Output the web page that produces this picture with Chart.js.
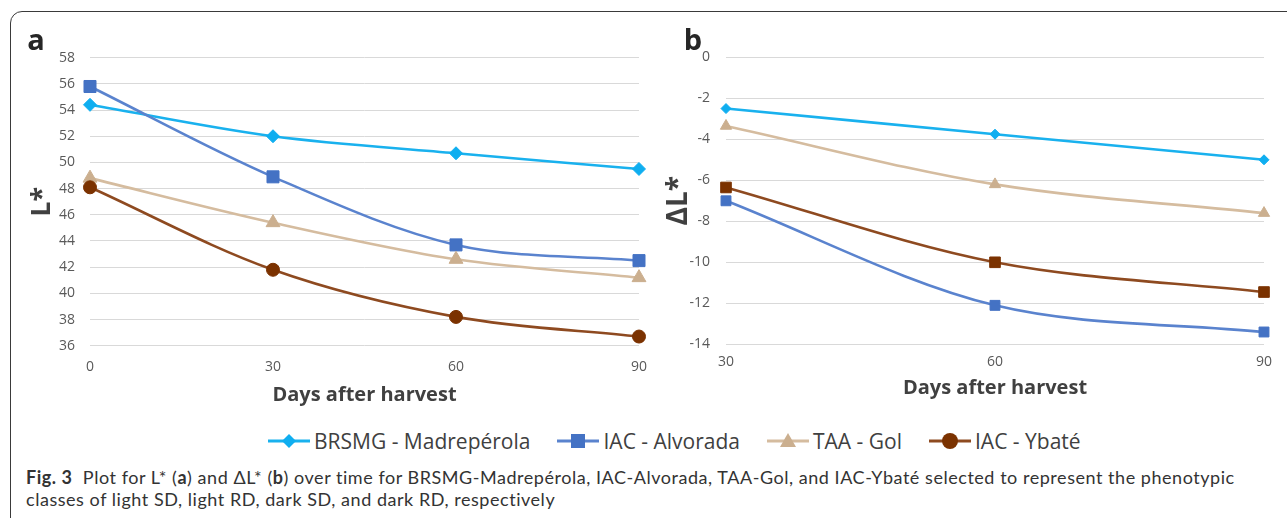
<!DOCTYPE html>
<html><head><meta charset="utf-8">
<script src="https://cdn.jsdelivr.net/npm/chart.js@4"></script>
<style>
html,body{margin:0;padding:0;background:#fff;}
body{width:1287px;height:518px;overflow:hidden;position:relative;font-family:"Open Sans",sans-serif;}
#frame{position:absolute;left:10px;top:11px;width:1320px;height:540px;border:1.5px solid #3a3a3a;border-radius:12px;box-sizing:border-box;}
.wrap{position:absolute;top:0;height:420px;}
#wa{left:0;width:660px;}
#wb{left:660px;width:627px;}
.plabel{position:absolute;font-weight:700;font-size:29px;color:#262626;line-height:30px;transform:translate(-50%,-50%);}
#legend{position:absolute;left:268px;top:428px;height:26px;display:flex;align-items:center;gap:27px;white-space:nowrap;}
.li{display:flex;align-items:center;}
.li span{font-size:21px;color:#404040;margin-left:4px;line-height:26px;}
#caption{position:absolute;left:26px;top:466px;font-family:Lato,sans-serif;font-size:18px;line-height:22px;color:#333;white-space:nowrap;}
#caption span{display:inline-block;}
#caption b{font-weight:700;}
</style></head>
<body>
<div id="frame"></div>
<div class="wrap" id="wa"><canvas id="ca"></canvas></div>
<div class="wrap" id="wb"><canvas id="cb"></canvas></div>
<div class="plabel" style="left:36px;top:39px;">a</div>
<div class="plabel" style="left:693px;top:39px;">b</div>
<div id="legend"></div>
<div id="caption"><span id="cap1"><b>Fig. 3</b>&nbsp; Plot for L* (<b>a</b>) and ΔL* (<b>b</b>) over time for BRSMG-Madrepérola, IAC-Alvorada, TAA-Gol, and IAC-Ybaté selected to represent the phenotypic</span><br><span id="cap2">classes of light SD, light RD, dark SD, and dark RD, respectively</span></div>
<script>
// ---- data ----
const seriesNames = ["BRSMG - Madrepérola", "IAC - Alvorada", "TAA - Gol", "IAC - Ybaté"];
const daysA = [0, 30, 60, 90];
const lBRSMG = [54.4, 52.0, 50.7, 49.5];
const lAlvorada = [55.8, 48.9, 43.7, 42.5];
const lTAA = [48.8, 45.4, 42.6, 41.2];
const lYbate = [48.1, 41.8, 38.2, 36.7];
const daysB = [30, 60, 90];
const dBRSMG = [-2.5, -3.75, -5.0];
const dAlvorada = [-7.0, -12.1, -13.4];
const dTAA = [-3.35, -6.2, -7.6];
const dYbate = [-6.35, -10.0, -11.45];
const ticksA = {min: 36, max: 58, step: 2};
const ticksB = {min: -14, max: 0, step: 2};

const lineColors = ["#19B1EE", "#5A83CE", "#D5BC9F", "#8E4A20"];
const markColors = ["#0FAEF0", "#4472C4", "#CBAF8F", "#7B3200"];

Chart.defaults.font.family = "'Open Sans', sans-serif";

function pts(xs, ys){ return xs.map((x,i)=>({x:x, y:ys[i]})); }

function ds(i, xs, ys, style, r){
  return {
    label: seriesNames[i], data: pts(xs, ys),
    borderColor: lineColors[i], backgroundColor: markColors[i],
    pointBackgroundColor: markColors[i], pointBorderColor: markColors[i],
    pointBorderWidth: 1, pointStyle: style, pointRadius: r, pointHoverRadius: r,
    borderWidth: 2.6, tension: 0.33, clip: false, order: 4 - i
  };
}

function makeChart(id, datasets, xr, yr, cfg){
  return new Chart(document.getElementById(id), {
    type: 'line',
    data: {datasets: datasets},
    options: {
      responsive: true, maintainAspectRatio: false, animation: false,
      layout: {padding: {left: 0, right: cfg.padRight, top: cfg.top, bottom: 0}},
      plugins: {legend: {display: false}, tooltip: {enabled: false}},
      scales: {
        x: {
          type: 'linear', min: xr.min, max: xr.max,
          ticks: {stepSize: 30, color: '#595959', font: {size: 14}, padding: cfg.xTickPad},
          grid: {display: false, drawTicks: false}, border: {display: false},
          title: {display: true, text: 'Days after harvest', color: '#404040',
                  font: {size: 20, weight: 'bold'}, padding: {top: 0, bottom: cfg.xTitlePad}},
          afterFit: s => { s.height = cfg.xHeight; }
        },
        y: {
          min: yr.min, max: yr.max,
          ticks: {stepSize: yr.step, color: '#595959', font: {size: 14}, padding: cfg.yTickPad},
          grid: {color: '#d9d9d9', lineWidth: 1, drawTicks: false}, border: {display: false},
          title: {display: true, text: cfg.yTitle, color: '#404040',
                  font: {size: cfg.yTitleSize, weight: 'bold'}, padding: {top: cfg.yTitlePad, bottom: 0}},
          afterFit: s => { s.width = cfg.yWidth; }
        }
      }
    }
  });
}

makeChart('ca', [
  ds(0, daysA, lBRSMG, 'rectRot', 6.5),
  ds(1, daysA, lAlvorada, 'rect', 8.5),
  ds(2, daysA, lTAA, 'triangle', 8),
  ds(3, daysA, lYbate, 'circle', 6.5)
], {min: 0, max: 90}, ticksA, {
  padRight: 19, top: 57.7, xTickPad: 13, xTitlePad: 13, xHeight: 74.3,
  yTickPad: 15, yTitle: 'L*', yTitleSize: 27, yTitlePad: 26, yWidth: 90
});

makeChart('cb', [
  ds(0, daysB, dBRSMG, 'rectRot', 5),
  ds(1, daysB, dAlvorada, 'rect', 7),
  ds(2, daysB, dTAA, 'triangle', 6.5),
  ds(3, daysB, dYbate, 'rect', 7.5)
], {min: 30, max: 90}, ticksB, {
  padRight: 23, top: 57.3, xTickPad: 9.3, xTitlePad: 20, xHeight: 75.7,
  yTickPad: 16, yTitle: 'ΔL*', yTitleSize: 28, yTitlePad: 2.5, yWidth: 66
});

// ---- legend ----
const legendMarks = ['diamond', 'square', 'triangle', 'circle'];
const leg = document.getElementById('legend');
seriesNames.forEach((n, i) => {
  const c = markColors[i], lc = lineColors[i];
  let m = '';
  if (legendMarks[i] === 'diamond') m = `<polygon points="21,3 28,10 21,17 14,10" fill="${c}"/>`;
  if (legendMarks[i] === 'square') m = `<rect x="14" y="3" width="14" height="14" fill="${c}"/>`;
  if (legendMarks[i] === 'triangle') m = `<polygon points="21,2 29,16 13,16" fill="${c}"/>`;
  if (legendMarks[i] === 'circle') m = `<circle cx="21" cy="10" r="8" fill="${c}"/>`;
  const d = document.createElement('div');
  d.className = 'li';
  d.innerHTML = `<svg width="42" height="20"><line x1="0" y1="10" x2="42" y2="10" stroke="${lc}" stroke-width="3"/>${m}</svg><span>${n}</span>`;
  leg.appendChild(d);
});

// ---- fit caption line 1 to reference width ----
const cap1 = document.getElementById('cap1');
const cap2 = document.getElementById('cap2');
const target = 1209;
const w = cap1.getBoundingClientRect().width;
const n = cap1.textContent.length;
const ls = (target - w) / n;
cap1.style.letterSpacing = ls + 'px';
cap2.style.letterSpacing = ls + 'px';
</script>
</body></html>
